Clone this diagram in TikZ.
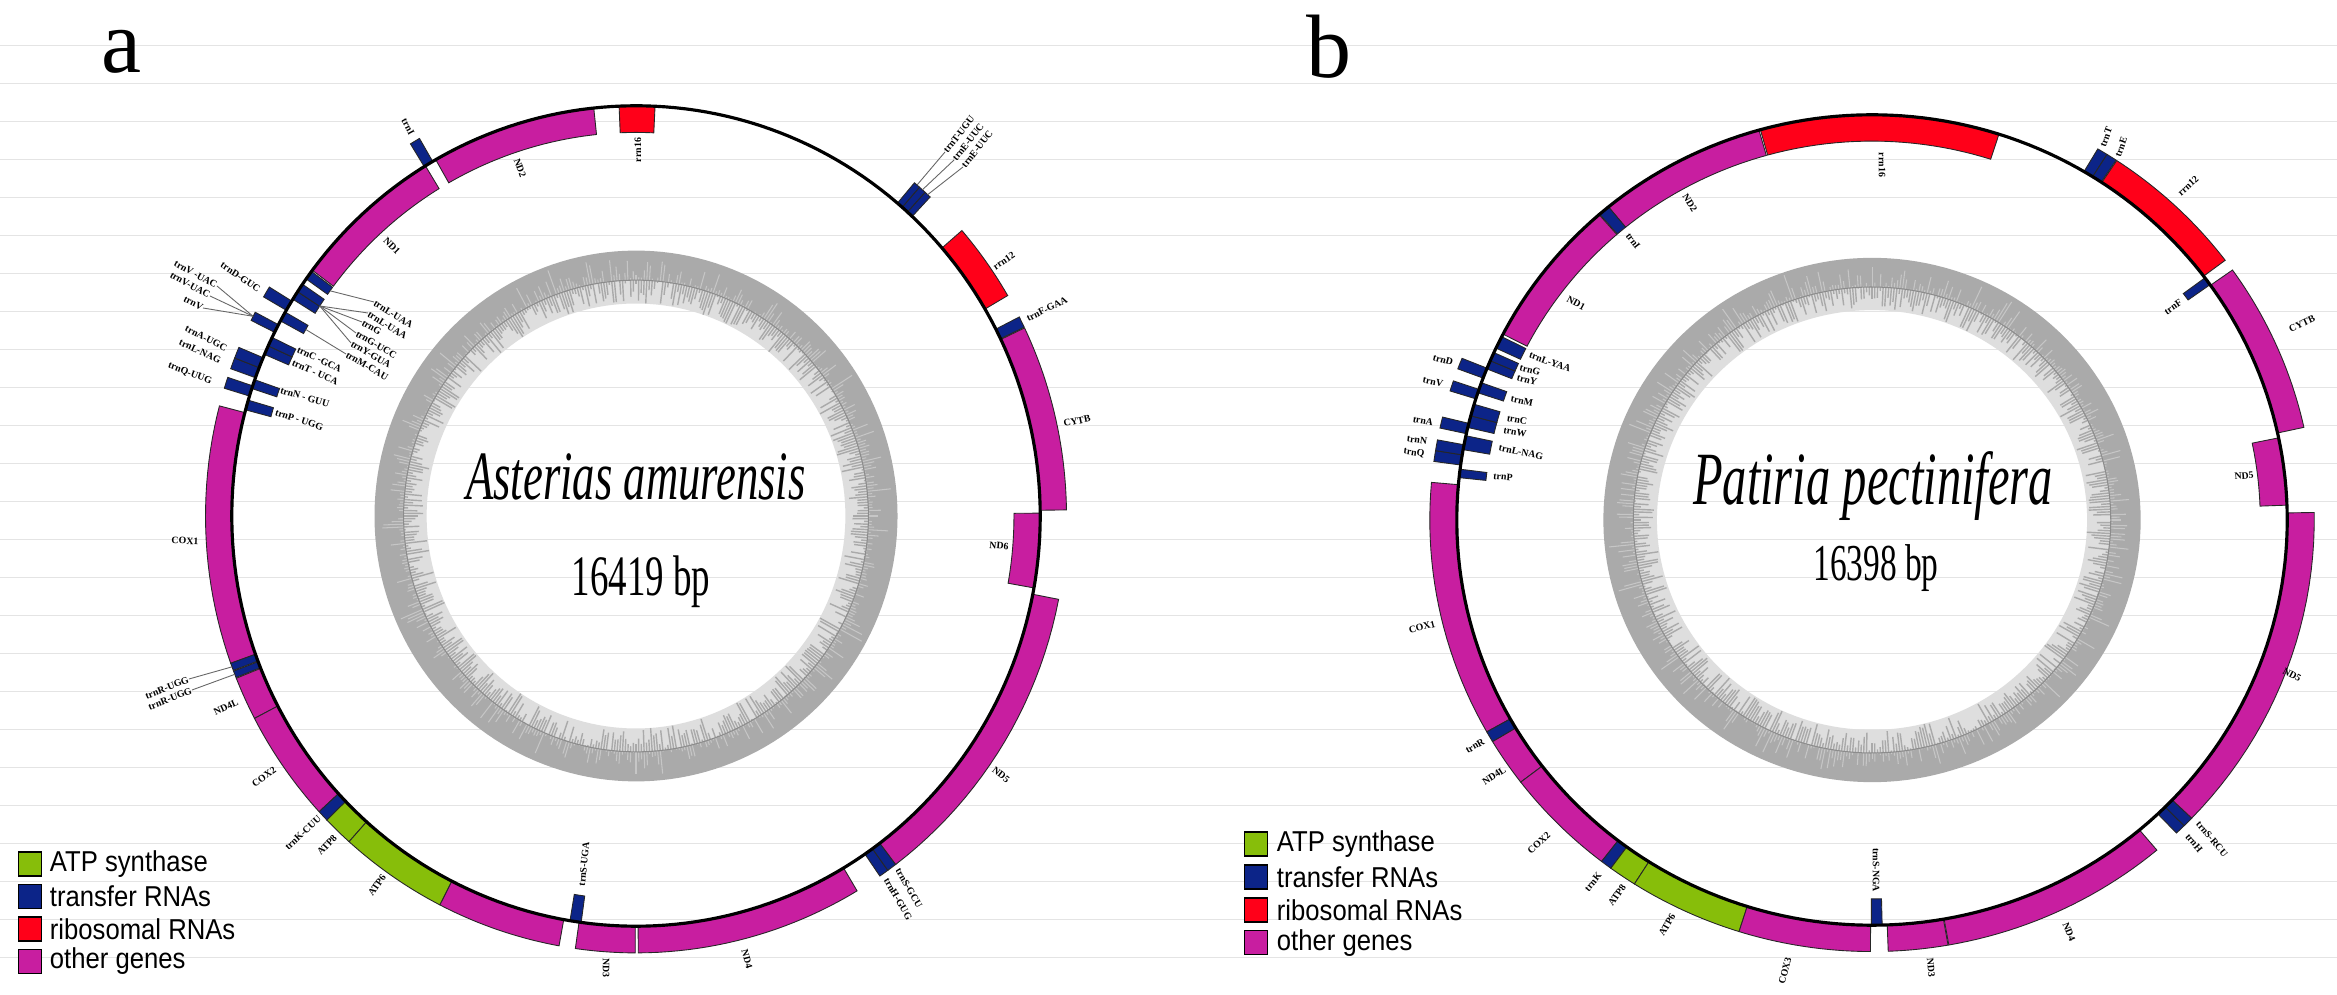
\documentclass[tikz,border=0pt]{standalone}
\usepackage{fontspec}
\setmainfont{Liberation Serif}
\newfontfamily\legendfont{Liberation Sans}
\usetikzlibrary{positioning}

\definecolor{genemag}{RGB}{200,30,160}
\definecolor{atpgreen}{RGB}{135,190,10}
\definecolor{trnablue}{RGB}{12,36,136}
\definecolor{rrnared}{RGB}{255,0,25}
\definecolor{rulegray}{RGB}{228,228,228}
\definecolor{gcdark}{RGB}{170,170,170}
\definecolor{gclight}{RGB}{222,222,222}
\definecolor{gcstreakc}{RGB}{198,198,198}

\tikzset{
  gene/.style={fill=genemag},
  atp/.style={fill=atpgreen},
  trna/.style={fill=trnablue},
  rrna/.style={fill=rrnared},
  bar/.style={draw=black!85, line width=0.25pt},
  glabel/.style={font=\fontsize{2.8}{3}\selectfont\bfseries, inner sep=0pt},
  leader/.style={draw=black!60, line width=0.25pt},
  backbone/.style={draw=black, line width=0.9pt},
  rule/.style={draw=rulegray, line width=0.4pt},
  gcspike/.style={draw=gcdark, line width=0.4pt},
  gcstreak/.style={draw=gcstreakc, line width=0.3pt},
  gcmid/.style={draw=black!45, line width=0.3pt},
  legbox/.style={draw=black, line width=0.4pt, minimum width=0.23cm, minimum height=0.24cm, inner sep=0pt},
  legtext/.style={font=\legendfont\fontsize{7.3}{8}\selectfont, yscale=1.12, inner sep=0pt},
  title/.style={font=\fontsize{12.7}{14}\selectfont\itshape, yscale=1.55},
  bpsize/.style={font=\fontsize{10.5}{12}\selectfont, yscale=1.55},
  tag/.style={font=\fontsize{25.6}{28}\selectfont}
}

% one gene bar: start angle, end angle (clockwise from top), side (1 out, 0 in), kind
\newcommand{\genebar}[4]{%
  \pgfmathsetmacro{\ta}{#1-90}
  \pgfmathsetmacro{\tb}{#2-90}
  \pgfmathsetmacro{\ri}{1-0.065*(1-#3)}
  \pgfmathsetmacro{\ro}{1+0.065*#3}
  \path[bar,#4] plot[domain=\ta:\tb, samples=24, variable=\t] (\t:\ri)
    -- plot[domain=\tb:\ta, samples=24, variable=\t] (\t:\ro) -- cycle;
}

% GC content ring
\newcommand{\gcring}[1]{%
  \pgfmathsetseed{#1}
  \fill[gcdark, even odd rule] plot[domain=0:360, samples=180, variable=\t] (\t:0.647) -- cycle
    plot[domain=0:360, samples=180, variable=\t] (\t:0.575) -- cycle;
  \fill[gclight, even odd rule] plot[domain=0:360, samples=180, variable=\t] (\t:0.575) -- cycle
    plot[domain=0:360, samples=180, variable=\t] (\t:0.518) -- cycle;
  \foreach \k in {0,...,539}{
    \pgfmathsetmacro{\ang}{\k/1.5}
    \pgfmathsetmacro{\rin}{0.575-0.057*rnd}
    \pgfmathsetmacro{\rout}{0.576+0.065*rnd*rnd}
    \draw[gcspike] (\ang:0.575) -- (\ang:\rin);
    \draw[gcstreak] (\ang:0.576) -- (\ang:\rout);
  }
  \draw[gcmid] plot[domain=0:360, samples=180, variable=\t] (\t:0.575) -- cycle;
}

\begin{document}
\begin{tikzpicture}[x=0.01cm, y=-0.01cm]
  \useasboundingbox (0,0) rectangle (2337,995);
  \fill[white] (0,0) rectangle (2337,995);

  % ruled background
  \foreach \k in {1,...,25}
    \draw[rule] (0,{7.7+38*\k}) -- (2337,{7.7+38*\k});

  % ---------------- map a ----------------
  \begin{scope}[shift={(636,516)}, x=4.04cm, y=-4.10cm]
    \gcring{11}
    \foreach \s/\e/\side/\kind in {
      -2.4/2.7/0/rrna, -29.7/-6.0/0/gene, -31.6/-30.2/1/trna, -53.2/-31.4/0/gene,
      -54.7/-53.4/0/trna, -58.1/-56.85/0/trna, -56.85/-55.6/0/trna, -59.9/-58.4/1/trna,
      -61.6/-60.2/0/trna, -63.4/-62.2/1/trna, -66.8/-65.5/0/trna, -65.5/-64.2/0/trna,
      -70.3/-68.8/1/trna, -68.8/-67.3/1/trna, -71.9/-70.6/0/trna, -73/-71.5/1/trna,
      -75/-73.6/0/trna, -109.7/-75.4/1/gene, -111.7/-110.8/1/trna, -110.7/-109.7/1/trna,
      -117.6/-111.8/1/gene, -132.6/-117.6/1/gene, -134.1/-132.6/1/trna,
      -138.2/-134.1/1/atp, -152.9/-138.2/1/atp, -169.7/-152.9/1/gene,
      187.8/189.4/0/trna, 180.1/188.1/1/gene, 149.1/179.7/1/gene,
      144.2/145.5/1/trna, 142.9/144.2/1/trna, 101/142.9/1/gene, 89.6/100.1/0/gene,
      64.5/89.2/1/gene, 62.9/64.4/1/trna, 49.2/59.7/1/rrna,
      40.3/41.2/1/trna, 41.2/42.2/1/trna, 42.2/43.1/1/trna}
      {\genebar{\s}{\e}{\side}{\kind}}
    \draw[backbone] plot[domain=0:360, samples=240, variable=\t] (\t:1) -- cycle;
    \coordinate (a-pT) at ({40.75-90}:1.065);
    \coordinate (a-pE1) at ({41.7-90}:1.065);
    \coordinate (a-pE2) at ({42.65-90}:1.065);
    \coordinate (a-pR1) at ({249.8-90}:1.065);
    \coordinate (a-pR2) at ({248.75-90}:1.065);
    \coordinate (a-pL1) at ({305.95-90}:0.935);
    \coordinate (a-pB2) at ({303.2-90}:0.935);
    \coordinate (a-pB3) at ({299.1-90}:0.935);
    \coordinate (a-pV) at ({297.2-90}:1.065);
  \end{scope}

  \node[tag] (a-tag) at (121,52) {a};
  \node[title] (a-title) at (636,477) {Asterias amurensis};
  \node[bpsize] (a-size) at (641,582) {16419 bp};

  % gene labels, map a
  \node[glabel, rotate=90] (a-rrn16) at (638,150) {rrn16};
  \node[glabel, rotate=-70] (a-ND2) at (520,168) {ND2};
  \node[glabel, rotate=-62] (a-trnI) at (408,127) {trnI};
  \node[glabel, rotate=-45] (a-ND1) at (392,246) {ND1};
  \node[glabel, rotate=52, anchor=west] (a-trnT) at (945,152) {trnT-UGU};
  \node[glabel, rotate=52, anchor=west] (a-trnE1) at (954,160) {trnE-UUC};
  \node[glabel, rotate=52, anchor=west] (a-trnE2) at (963,167) {trnE-UUC};
  \node[glabel, rotate=34] (a-rrn12) at (1004,261) {rrn12};
  \node[glabel, rotate=27] (a-trnF) at (1047,309) {trnF-GAA};
  \node[glabel, rotate=12] (a-CYTB) at (1077,421) {CYTB};
  \node[glabel, rotate=-5] (a-ND6) at (999,546) {ND6};
  \node[glabel, rotate=-38] (a-ND5) at (1001,775) {ND5};
  \node[glabel, rotate=-60] (a-trnS2) at (909,888) {trnS-GCU};
  \node[glabel, rotate=-60] (a-trnH) at (898,899) {trnH-GUG};
  \node[glabel, rotate=-75] (a-ND4) at (747,959) {ND4};
  \node[glabel, rotate=-90] (a-ND3) at (606,968) {ND3};
  \node[glabel, rotate=84] (a-trnS1) at (584,864) {trnS-UGA};
  \node[glabel, rotate=55] (a-ATP6) at (377,885) {ATP6};
  \node[glabel, rotate=47] (a-ATP8) at (327,845) {ATP8};
  \node[glabel, rotate=43] (a-trnK) at (303,833) {trnK-CUU};
  \node[glabel, rotate=35] (a-COX2) at (264,777) {COX2};
  \node[glabel, rotate=25] (a-ND4L) at (226,707) {ND4L};
  \node[glabel, rotate=22, anchor=east] (a-trnR1) at (189,679) {trnR-UGG};
  \node[glabel, rotate=22, anchor=east] (a-trnR2) at (192,690) {trnR-UGG};
  \node[glabel, rotate=-2] (a-COX1) at (185,541) {COX1};
  % tRNA cluster, map a
  \node[glabel, rotate=-32, anchor=west] (a-trnL1) at (374,302) {trnL-UAA};
  \node[glabel, rotate=-32, anchor=west] (a-trnL2) at (368,313) {trnL-UAA};
  \node[glabel, rotate=-30, anchor=west] (a-trnG1) at (362,322) {trnG};
  \node[glabel, rotate=-30, anchor=west] (a-trnG2) at (356,333) {trnG-UCC};
  \node[glabel, rotate=-30, anchor=west] (a-trnY) at (351,343) {trnY-GUA};
  \node[glabel, rotate=-30, anchor=west] (a-trnM) at (346,354) {trnM-CAU};
  \node[glabel, rotate=-25, anchor=west] (a-trnC) at (297,349) {trnC -GCA};
  \node[glabel, rotate=-24, anchor=west] (a-trnT2) at (292,362) {trnT - UCA};
  \node[glabel, rotate=-16, anchor=west] (a-trnN) at (280,390) {trnN - GUU};
  \node[glabel, rotate=-18, anchor=west] (a-trnP) at (275,412) {trnP - UGG};
  \node[glabel, rotate=-34, anchor=east] (a-trnD) at (260,290) {trnD-GUC};
  \node[glabel, rotate=-29, anchor=east] (a-trnV1) at (217,286) {trnV -UAC};
  \node[glabel, rotate=-29, anchor=east] (a-trnV2) at (210,296) {trnV-UAC};
  \node[glabel, rotate=-27, anchor=east] (a-trnV3) at (203,308) {trnV};
  \node[glabel, rotate=-27, anchor=east] (a-trnA) at (227,349) {trnA-UGC};
  \node[glabel, rotate=-25, anchor=east] (a-trnL3) at (221,361) {trnL-NAG};
  \node[glabel, rotate=-21, anchor=east] (a-trnQ) at (212,382) {trnQ-UUG};

  % leader lines, map a
  \draw[leader] (a-pT) -- (a-trnT.west);
  \draw[leader] (a-pE1) -- (a-trnE1.west);
  \draw[leader] (a-pE2) -- (a-trnE2.west);
  \draw[leader] (a-pR1) -- (a-trnR1.east);
  \draw[leader] (a-pR2) -- (a-trnR2.east);
  \draw[leader] (a-pL1) -- (a-trnL1.west);
  \draw[leader] (a-pB2) -- (a-trnL2.west);
  \draw[leader] (a-pB2) -- (a-trnG1.west);
  \draw[leader] (a-pB2) -- (a-trnG2.west);
  \draw[leader] (a-pB2) -- (a-trnY.west);
  \draw[leader] (a-pB3) -- (a-trnM.west);
  \draw[leader] (a-pV) -- (a-trnV1.east);
  \draw[leader] (a-pV) -- (a-trnV2.east);
  \draw[leader] (a-pV) -- (a-trnV3.east);

  % legend, map a
  \node[legbox, fill=atpgreen] (a-key1) at (30,864) {};
  \node[legbox, fill=trnablue, below=0.07cm of a-key1] (a-key2) {};
  \node[legbox, fill=rrnared, below=0.07cm of a-key2] (a-key3) {};
  \node[legbox, fill=genemag, below=0.07cm of a-key3] (a-key4) {};
  \node[legtext, right=0.07cm of a-key1] (a-key1-txt) {ATP synthase};
  \node[legtext, right=0.07cm of a-key2] (a-key2-txt) {transfer RNAs};
  \node[legtext, right=0.07cm of a-key3] (a-key3-txt) {ribosomal RNAs};
  \node[legtext, right=0.07cm of a-key4] (a-key4-txt) {other genes};

  % ---------------- map b ----------------
  \begin{scope}[shift={(1872,520)}, x=4.15cm, y=-4.05cm]
    \gcring{23}
    \foreach \s/\e/\side/\kind in {
      -15.6/17.8/0/rrna, -39.4/-15.8/0/gene, -41.0/-39.4/0/trna, -62.7/-41.1/0/gene,
      -64.9/-63.1/0/trna, -68.1/-66.85/0/trna, -66.85/-65.6/0/trna, -69.5/-68.0/1/trna,
      -71.7/-70.2/0/trna, -72.6/-71.2/1/trna, -76.8/-75.1/0/trna, -75.1/-73.4/0/trna,
      -77.7/-76.2/1/trna, -80.0/-78.0/0/trna, -82.2/-80.75/1/trna, -80.75/-79.3/1/trna,
      -84/-82.8/0/trna, -119.4/-85/1/gene, -120.9/-119.4/1/trna, -127.4/-120.9/1/gene,
      -142.3/-127.4/1/gene, -143.8/-142.3/1/trna, -147.5/-143.8/1/atp,
      -162.5/-147.5/1/atp, -179.8/-162.5/1/gene,
      178.6/180.1/0/trna, 170.1/177.9/1/gene, 139.9/170.0/1/gene,
      135.1/136.5/1/trna, 133.7/135.1/1/trna, 89/133.7/1/gene, 78.3/87.9/0/gene,
      54.6/77.6/1/gene, 53.3/54.5/0/trna, 33.6/53.0/1/rrna,
      30.7/32.1/1/trna, 32.1/33.5/1/trna}
      {\genebar{\s}{\e}{\side}{\kind}}
    \draw[backbone] plot[domain=0:360, samples=240, variable=\t] (\t:1) -- cycle;
  \end{scope}

  \node[tag] (b-tag) at (1329,47) {b};
  \node[title, font=\fontsize{13.8}{15}\selectfont\itshape] (b-title) at (1873,486) {Patiria pectinifera};
  \node[bpsize, font=\fontsize{9.5}{11}\selectfont] (b-size) at (1876,568) {16398 bp};

  % gene labels, map b
  \node[glabel, rotate=-90] (b-rrn16) at (1882,165) {rrn16};
  \node[glabel, rotate=-58] (b-ND2) at (1690,203) {ND2};
  \node[glabel, rotate=-52] (b-trnI) at (1633,241) {trnI};
  \node[glabel, rotate=-28] (b-ND1) at (1576,303) {ND1};
  \node[glabel, rotate=70] (b-trnT) at (2106,137) {trnT};
  \node[glabel, rotate=70] (b-trnE) at (2121,147) {trnE};
  \node[glabel, rotate=42] (b-rrn12) at (2188,186) {rrn12};
  \node[glabel, rotate=35] (b-trnF) at (2173,307) {trnF};
  \node[glabel, rotate=25] (b-CYTB) at (2302,324) {CYTB};
  \node[glabel, rotate=5] (b-ND5a) at (2244,476) {ND5};
  \node[glabel, rotate=-28] (b-ND5b) at (2292,675) {ND5};
  \node[glabel, rotate=-50] (b-trnS2) at (2212,839) {trnS-RCU};
  \node[glabel, rotate=-50] (b-trnH) at (2194,843) {trnH};
  \node[glabel, rotate=-68] (b-ND4) at (2069,932) {ND4};
  \node[glabel, rotate=-85] (b-ND3) at (1931,968) {ND3};
  \node[glabel, rotate=-90] (b-trnS1) at (1876,870) {trnS-NGA};
  \node[glabel, rotate=75] (b-COX3) at (1785,971) {COX3};
  \node[glabel, rotate=60] (b-ATP6) at (1667,925) {ATP6};
  \node[glabel, rotate=55] (b-ATP8) at (1617,895) {ATP8};
  \node[glabel, rotate=50] (b-trnK) at (1593,882) {trnK};
  \node[glabel, rotate=42] (b-COX2) at (1539,843) {COX2};
  \node[glabel, rotate=33] (b-ND4L) at (1494,776) {ND4L};
  \node[glabel, rotate=30] (b-trnR) at (1475,746) {trnR};
  \node[glabel, rotate=14] (b-COX1) at (1422,627) {COX1};
  % tRNA cluster, map b
  \node[glabel, rotate=-20] (b-trnL1) at (1550,362) {trnL-YAA};
  \node[glabel, rotate=-15] (b-trnG) at (1530,370) {trnG};
  \node[glabel, rotate=-15] (b-trnY) at (1527,380) {trnY};
  \node[glabel, rotate=-12] (b-trnM) at (1522,401) {trnM};
  \node[glabel, rotate=-10] (b-trnC) at (1517,420) {trnC};
  \node[glabel, rotate=-10] (b-trnW) at (1515,432) {trnW};
  \node[glabel, rotate=-12] (b-trnL2) at (1521,452) {trnL-NAG};
  \node[glabel, rotate=-5] (b-trnP) at (1503,477) {trnP};
  \node[glabel, rotate=-15] (b-trnD) at (1443,360) {trnD};
  \node[glabel, rotate=-12] (b-trnV) at (1433,382) {trnV};
  \node[glabel, rotate=-10] (b-trnA) at (1423,421) {trnA};
  \node[glabel, rotate=-8] (b-trnN) at (1417,440) {trnN};
  \node[glabel, rotate=-8] (b-trnQ) at (1414,453) {trnQ};

  % legend, map b
  \node[legbox, fill=atpgreen] (b-key1) at (1256,844) {};
  \node[legbox, fill=trnablue, below=0.075cm of b-key1] (b-key2) {};
  \node[legbox, fill=rrnared, below=0.075cm of b-key2] (b-key3) {};
  \node[legbox, fill=genemag, below=0.075cm of b-key3] (b-key4) {};
  \node[legtext, right=0.08cm of b-key1] (b-key1-txt) {ATP synthase};
  \node[legtext, right=0.08cm of b-key2] (b-key2-txt) {transfer RNAs};
  \node[legtext, right=0.08cm of b-key3] (b-key3-txt) {ribosomal RNAs};
  \node[legtext, right=0.08cm of b-key4] (b-key4-txt) {other genes};
\end{tikzpicture}
\end{document}
